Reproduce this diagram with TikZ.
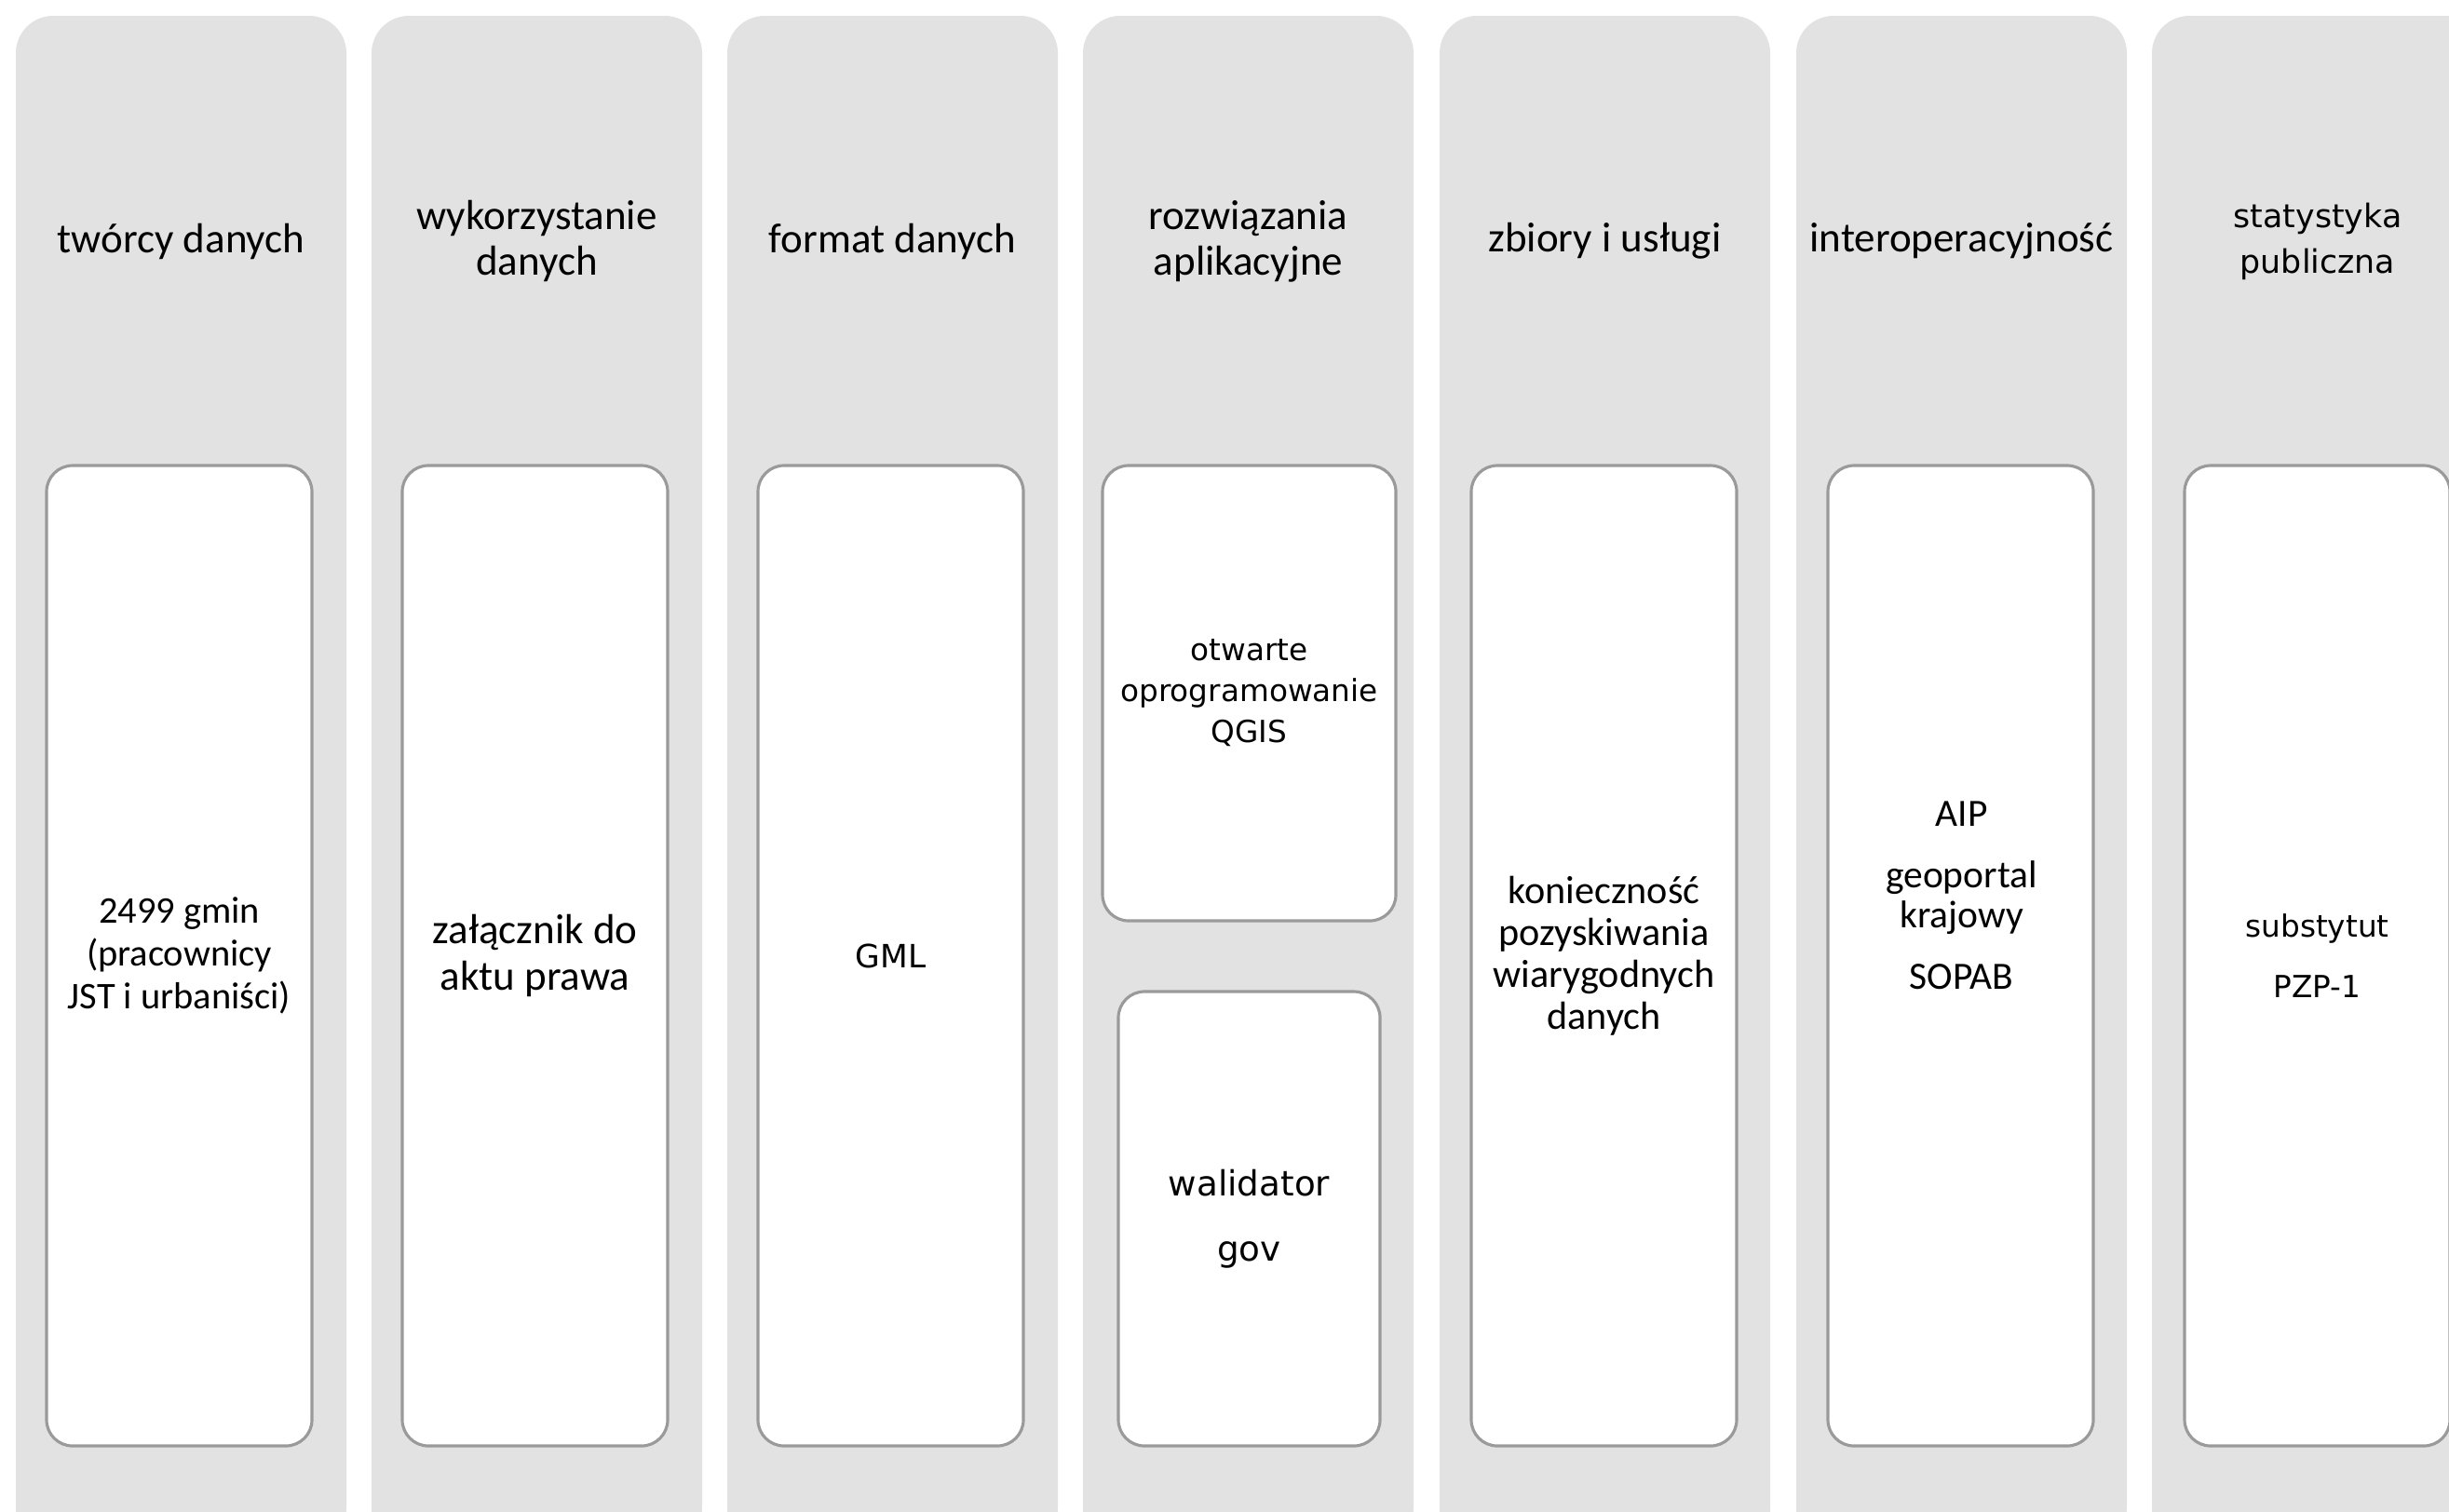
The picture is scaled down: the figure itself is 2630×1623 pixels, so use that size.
\documentclass[tikz,border=0pt]{standalone}
\usepackage{fontspec}
\setmainfont{Carlito}
\newfontfamily\widefont{DejaVu Sans}
\definecolor{colgray}{HTML}{E2E2E2}
\definecolor{boxline}{HTML}{9A9A9A}
\tikzset{
    column/.style={fill=colgray, draw=none, rounded corners=0.4cm},
    inbox/.style={fill=white, draw=boxline, line width=0.9pt, rounded corners=0.28cm},
    head/.style={align=center, inner sep=0pt, font=\fontsize{12.8}{13.9}\selectfont},
    note/.style={align=center, inner sep=0pt, font=\fontsize{11.5}{13}\selectfont},
}
\begin{document}
\begin{tikzpicture}[x=0.01cm, y=-0.01cm]
    \useasboundingbox (0,0) rectangle (2630,1623) ;
    \clip (0,0) rectangle (2630,1623) ;

    \draw [column] (17,17) rectangle (372,1660) ;
    \draw [column] (399,17) rectangle (754,1660) ;
    \draw [column] (781,17) rectangle (1136,1660) ;
    \draw [column] (1163,17) rectangle (1518,1660) ;
    \draw [column] (1546,17) rectangle (1901,1660) ;
    \draw [column] (1929,17) rectangle (2284,1660) ;
    \draw [column] (2311,17) rectangle (2666,1660) ;

    \node (tworcy) [head] at (194.5,259) {twórcy danych} ;
    \node (wykorz) [head] at (576.5,259) {wykorzystanie\\danych} ;
    \node (format) [head] at (958.5,259) {format danych} ;
    \node (rozw) [head] at (1340.5,259) {rozwiązania\\aplikacyjne} ;
    \node (zbiory) [head] at (1723.5,259) {zbiory i usługi} ;
    \node (interop) [head] at (2106.5,259) {interoperacyjność} ;
    \node (stat) [head, font=\widefont\fontsize{9.9}{13.9}\selectfont] at (2489,259) {statystyka\\publiczna} ;

    \draw [inbox] (50,500) rectangle (335,1553) node (gminy) [pos=.5, note] {2499 gmin\\(pracownicy\\JST i urbaniści)} ;
    \draw [inbox] (432,500) rectangle (717,1553) node (zalacznik) [pos=.5, note, font=\fontsize{12.8}{14.2}\selectfont] {załącznik do\\aktu prawa} ;
    \draw [inbox] (814,500) rectangle (1099,1553) node (gml) [pos=.5, note, font=\widefont\fontsize{9.8}{12}\selectfont] {GML} ;
    \draw [inbox] (1184,500) rectangle (1499,989) node (qgis) [pos=.5, note, font=\widefont\fontsize{9.3}{12.5}\selectfont] {otwarte\\oprogramowanie\\QGIS} ;
    \draw [inbox] (1201,1065) rectangle (1482,1553) node (walidator) [pos=.5, note, font=\widefont\fontsize{10.6}{20}\selectfont] {walidator\\gov} ;
    \draw [inbox] (1580,500) rectangle (1865,1553) node (koniecz) [pos=.5, note, font=\fontsize{12}{12.8}\selectfont] {konieczność\\pozyskiwania\\wiarygodnych\\danych} ;
    \draw [inbox] (1963,500) rectangle (2248,1553) ;
    \node (aip) [note, font=\fontsize{11.8}{12.2}\selectfont] at (2106.5,962) {AIP\\[6.5pt]geoportal\\krajowy\\[6.5pt]SOPAB} ;
    \draw [inbox] (2346,500) rectangle (2631,1553) node (pzp) [pos=.5, note, font=\widefont\fontsize{9.3}{18.7}\selectfont] {substytut\\PZP-1} ;
\end{tikzpicture}
\end{document}
